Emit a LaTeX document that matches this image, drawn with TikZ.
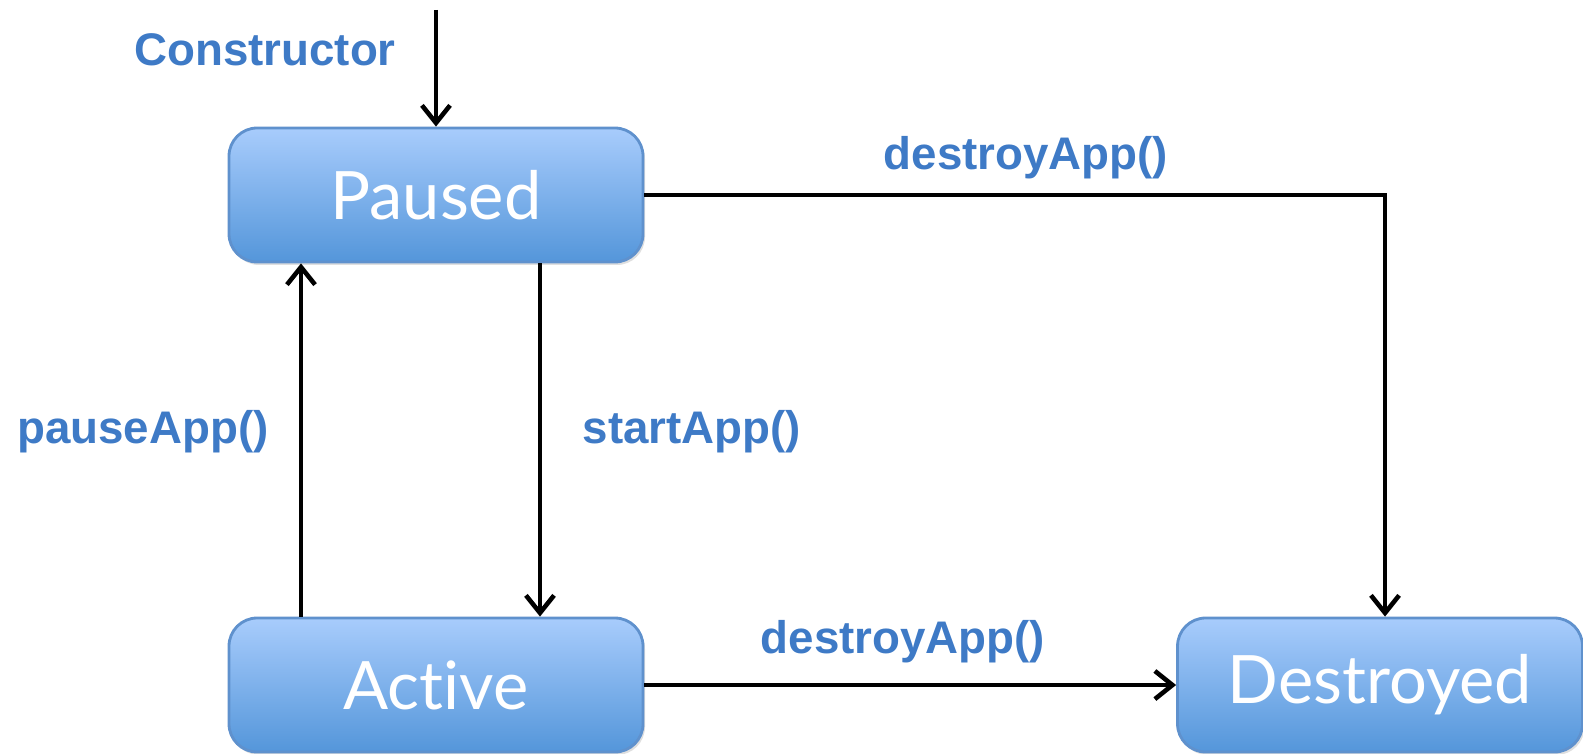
\documentclass[tikz,border=0pt]{standalone}
\usepackage{fontspec}
\setmainfont{Liberation Sans}
\newfontfamily\stateFont[Ligatures=NoCommon]{Lato}
\usepackage{tikz}
\usetikzlibrary{arrows.meta,positioning,shadows}
\definecolor{stateTop}{RGB}{168,204,252}
\definecolor{stateBottom}{RGB}{84,150,218}
\definecolor{stateLine}{RGB}{95,145,205}
\definecolor{labelBlue}{RGB}{62,122,198}
\tikzset{
  stateBox/.style={rounded corners=8pt, draw=stateLine, line width=0.8pt,
    top color=stateTop, bottom color=stateBottom,
    minimum width=4.14cm, minimum height=1.34cm, inner sep=0pt, text=white,
    font=\stateFont\fontsize{19}{19}\selectfont,
    drop shadow={opacity=0.25, shadow xshift=0.02cm, shadow yshift=-0.03cm}},
  transition/.style={draw=black, line width=1.3pt, -{Straight Barb[length=5pt,width=8pt]}},
  callLabel/.style={text=labelBlue, font=\bfseries\fontsize{13}{13}\selectfont}
}

\begin{document}
\begin{tikzpicture}
\useasboundingbox (0,0) rectangle (15.83,-7.54);

% states
\node[stateBox] (paused) at (4.36,-1.95) {Paused};
\node[stateBox] (active) at (4.36,-6.85) {Active};
\node[stateBox, minimum width=4.05cm] (destroyed) at (13.80,-6.85) {Destroyed};

% transitions
\coordinate (start) at (4.36,-0.10);
\draw[transition] (start) -- (paused.north);
\draw[transition] (paused.east) -| ([xshift=0.05cm]destroyed.north);
\draw[transition] ([xshift=1.04cm]paused.south) -- ([xshift=1.04cm]active.north);
\draw[transition] ([xshift=-1.35cm]active.north) -- ([xshift=-1.35cm]paused.south);
\draw[transition] (active.east) -- (destroyed.west);

% method labels
\node[callLabel] (lblCtor) at (2.65,-0.50) {Constructor};
\node[callLabel] (lblDestroyTop) at (10.26,-1.58) {destroyApp()};
\node[callLabel] (lblStart) at (6.92,-4.32) {startApp()};
\node[callLabel] (lblPause) at (1.43,-4.32) {pauseApp()};
\node[callLabel] (lblDestroyLow) at (9.03,-6.42) {destroyApp()};
\end{tikzpicture}
\end{document}
